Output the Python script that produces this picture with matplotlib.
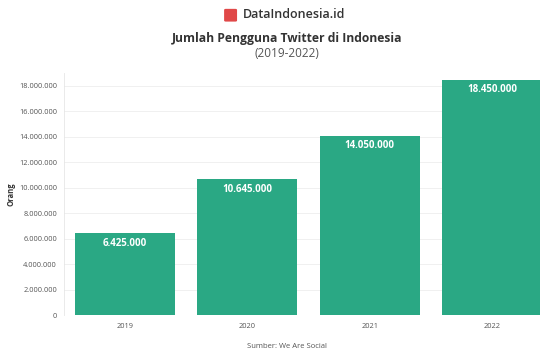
import matplotlib
matplotlib.use('Agg')
import matplotlib.pyplot as plt
from matplotlib.patches import FancyBboxPatch

plt.rcParams['font.family'] = ['Open Sans', 'DejaVu Sans']

years = ['2019', '2020', '2021', '2022']
users = [6425000, 10645000, 14050000, 18450000]
bar_labels = ['6.425.000', '10.645.000', '14.050.000', '18.450.000']
yticks = [0, 2000000, 4000000, 6000000, 8000000, 10000000,
          12000000, 14000000, 16000000, 18000000]


def fmt(v):
    return f'{v:,}'.replace(',', '.')


fig = plt.figure(figsize=(5.4, 3.54), dpi=100)
ax = fig.add_axes([0.1185, 0.110, 0.9056, 0.684])

x = range(len(years))
ax.bar(x, users, width=0.82, color='#2aa884', zorder=2)
for i, (v, lab) in enumerate(zip(users, bar_labels)):
    ax.text(i, v - 350000, lab, ha='center', va='top', color='white',
            fontsize=7, fontweight='bold', zorder=3)

ax.set_xlim(-0.5, 3.5)
ax.set_ylim(0, 19000000)
ax.set_xticks(list(x))
ax.set_xticklabels(years)
ax.set_yticks(yticks)
ax.set_yticklabels([fmt(t) for t in yticks])
ax.tick_params(axis='both', labelsize=5.3, colors='#555555', length=0, pad=5)
ax.tick_params(axis='x', pad=6)
ax.grid(axis='y', color='#eeeeee', linewidth=0.6, zorder=0)
for s in ['top', 'right', 'bottom']:
    ax.spines[s].set_visible(False)
ax.spines['left'].set_color('#e6e6e6')
ax.spines['left'].set_linewidth(0.6)
ax.set_ylabel('Orang', fontsize=5.5, fontweight='bold', color='#333333')
ax.yaxis.set_label_coords(-0.100, 0.5)

# header
cx = 0.532
fig.patches.append(FancyBboxPatch((0.418, 0.942), 0.018, 0.03, boxstyle='round,pad=0.003',
                                  transform=fig.transFigure, facecolor='#e04848',
                                  edgecolor='none'))
fig.text(0.450, 0.958, 'DataIndonesia.id', ha='left', va='center', fontsize=9,
         fontweight='semibold', color='#333333')
fig.text(cx, 0.890, 'Jumlah Pengguna Twitter di Indonesia', ha='center', va='center',
         fontsize=8.7, fontweight='bold', color='#333333')
fig.text(cx, 0.848, '(2019-2022)', ha='center', va='center', fontsize=8.5,
         color='#555555')
fig.text(cx, 0.022, 'Sumber: We Are Social', ha='center', va='center', fontsize=5.5,
         color='#555555')

fig.savefig('out.png', dpi=100)
